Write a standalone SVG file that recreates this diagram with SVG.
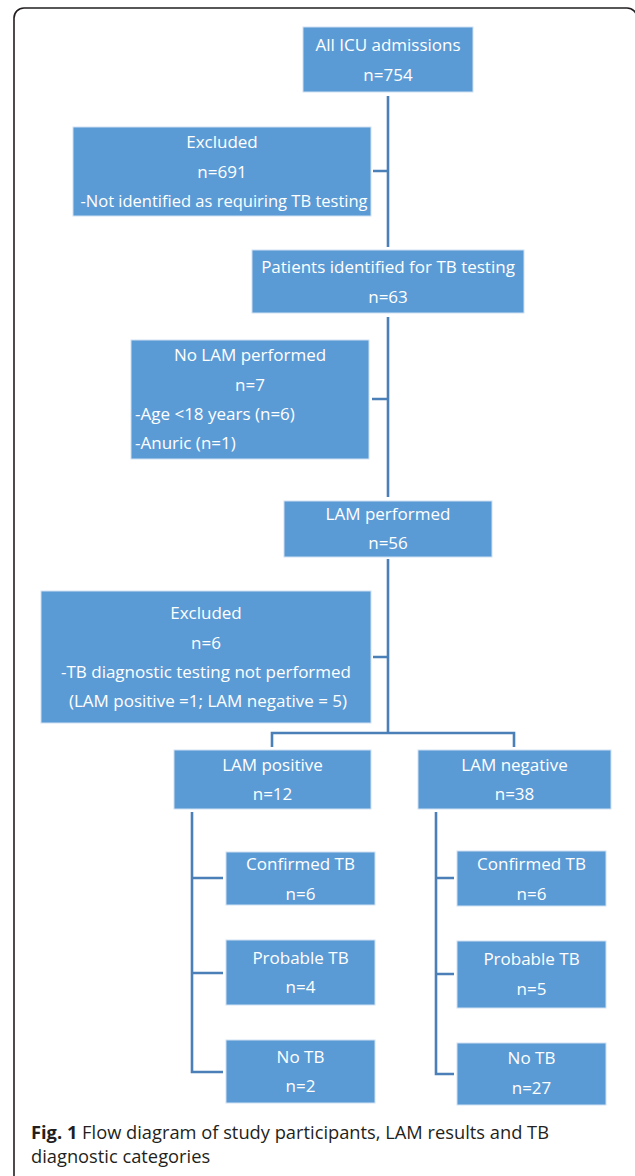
<svg xmlns="http://www.w3.org/2000/svg" width="635" height="1176" viewBox="0 0 635 1176">
<style>
.box{fill:#5b9bd5;stroke:#cfe0f2;stroke-width:1}
.t{font-family:"Open Sans","Liberation Sans",sans-serif;font-size:17px;fill:#ffffff;text-anchor:middle}
.tl{font-family:"Open Sans","Liberation Sans",sans-serif;font-size:17px;fill:#ffffff}
.cap{font-family:"Open Sans","Liberation Sans",sans-serif;font-size:18.3px;fill:#231f20}
#connectors path{fill:none;stroke:#4a7fb8;stroke-width:2.6}
</style>
<rect x="14" y="8" width="623" height="1180" rx="10" ry="10" fill="none" stroke="#231f20" stroke-width="1.6"/>
<g id="connectors">
<path d="M388 96V247M373 171H388"/>
<path d="M388 317V497M372 399H388"/>
<path d="M388 559V733M373 657H388"/>
<path d="M272 747V733H514V747"/>
<path d="M192 812V1072H223M192 878H223M192 973H223"/>
<path d="M436 812V1074H454M436 878H454M436 974H454"/>
</g>
<g id="all-icu">
<rect class="box" x="303" y="27" width="170" height="65"/>
<text class="t" x="388" y="51">All ICU admissions</text>
<text class="t" x="388" y="81">n=754</text>
</g>
<g id="excluded-1">
<rect class="box" x="73" y="127" width="298" height="89"/>
<text class="t" x="222" y="148">Excluded</text>
<text class="t" x="222" y="178">n=691</text>
<text class="t" x="224" y="207" style="font-size:16.5px">-Not identified as requiring TB testing</text>
</g>
<g id="patients-tb">
<rect class="box" x="252" y="250" width="272" height="63"/>
<text class="t" x="388" y="273">Patients identified for TB testing</text>
<text class="t" x="388" y="303">n=63</text>
</g>
<g id="no-lam">
<rect class="box" x="131" y="340" width="238" height="119"/>
<text class="t" x="250" y="361">No LAM performed</text>
<text class="t" x="250" y="391">n=7</text>
<text class="tl" x="135" y="420">-Age &lt;18 years (n=6)</text>
<text class="tl" x="135" y="449">-Anuric (n=1)</text>
</g>
<g id="lam-performed">
<rect class="box" x="284" y="501" width="208" height="56"/>
<text class="t" x="388" y="520">LAM performed</text>
<text class="t" x="388" y="549">n=56</text>
</g>
<g id="excluded-2">
<rect class="box" x="41" y="591" width="330" height="132"/>
<text class="t" x="206" y="619">Excluded</text>
<text class="t" x="206" y="649">n=6</text>
<text class="t" x="206" y="678">-TB diagnostic testing not performed</text>
<text class="t" x="208" y="707">(LAM positive =1; LAM negative = 5)</text>
</g>
<g id="lam-positive">
<rect class="box" x="174" y="750" width="197" height="59"/>
<text class="t" x="272.5" y="771">LAM positive</text>
<text class="t" x="272.5" y="800">n=12</text>
</g>
<g id="lam-negative">
<rect class="box" x="418" y="750" width="193" height="59"/>
<text class="t" x="514.5" y="771">LAM negative</text>
<text class="t" x="514.5" y="800">n=38</text>
</g>
<g id="pos-confirmed">
<rect class="box" x="226" y="852" width="149" height="53"/>
<text class="t" x="300.5" y="870">Confirmed TB</text>
<text class="t" x="300.5" y="900">n=6</text>
</g>
<g id="pos-probable">
<rect class="box" x="226" y="940" width="149" height="65"/>
<text class="t" x="300.5" y="964">Probable TB</text>
<text class="t" x="300.5" y="993">n=4</text>
</g>
<g id="pos-notb">
<rect class="box" x="226" y="1040" width="149" height="63"/>
<text class="t" x="300.5" y="1063">No TB</text>
<text class="t" x="300.5" y="1092">n=2</text>
</g>
<g id="neg-confirmed">
<rect class="box" x="457" y="851" width="149" height="55"/>
<text class="t" x="531.5" y="870">Confirmed TB</text>
<text class="t" x="531.5" y="900">n=6</text>
</g>
<g id="neg-probable">
<rect class="box" x="457" y="941" width="149" height="67"/>
<text class="t" x="531.5" y="965">Probable TB</text>
<text class="t" x="531.5" y="995">n=5</text>
</g>
<g id="neg-notb">
<rect class="box" x="457" y="1043" width="149" height="62"/>
<text class="t" x="531.5" y="1064">No TB</text>
<text class="t" x="531.5" y="1094">n=27</text>
</g>
<g id="caption">
<text class="cap" x="31" y="1139"><tspan font-weight="bold">Fig. 1</tspan> Flow diagram of study participants, LAM results and TB</text>
<text class="cap" x="31" y="1163">diagnostic categories</text>
</g>
</svg>
